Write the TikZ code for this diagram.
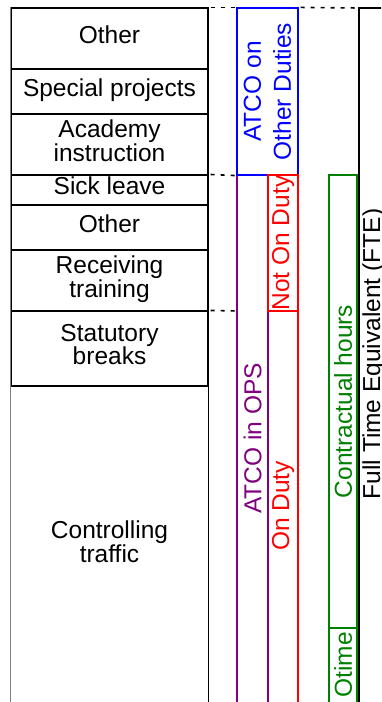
\documentclass[tikz,border=0pt]{standalone}
\usepackage{fontspec}
\setmainfont{Liberation Sans}
\definecolor{atcoblue}{RGB}{0,0,255}
\definecolor{atcopurple}{RGB}{128,0,128}
\definecolor{atcored}{RGB}{255,0,0}
\definecolor{atcogreen}{RGB}{0,128,0}

\begin{document}
\begin{tikzpicture}[x=1pt, y=-1pt, line width=1.2pt,
    font=\fontsize{24.5}{22}\selectfont,
    row/.style={draw, minimum width=197, inner sep=0pt, align=center, text depth=8pt},
    band/.style={draw, rotate=90, inner sep=0pt, align=center},
    guide/.style={line width=1.6pt, dash pattern=on 4pt off 6pt, dash phase=8pt}]
	\useasboundingbox (0,0) rectangle (381,702);
	\clip (0,0) rectangle (381,702);
	
	% Breakdown of the hours (left column)
	\node[row, minimum height=61] (other) at (109.5,38.5) {Other};
	\node[row, minimum height=45] (special) at (109.5,91.5) {Special projects};
	\node[row, minimum height=61] (academy) at (109.5,144.5) {Academy\\instruction};
	\node[row, minimum height=30] (sick) at (109.5,190) {Sick leave};
	\node[row, minimum height=45] (otherops) at (109.5,227.5) {Other};
	\node[row, minimum height=61] (training) at (109.5,280.5) {Receiving\\training};
	\node[row, minimum height=75] (breaks) at (109.5,348.5) {Statutory\\breaks};
	\draw (breaks.south west) -- ++(0,340) (breaks.south east) -- ++(0,340);
	\node[align=center, text depth=8pt] (traffic) at (109.5,546) {Controlling\\traffic};
	\draw[gray] (other.north west) -- ++(0,700);
	
	% On duty / ATCO in OPS
	\draw[atcored] (268,720) |- (298,311) -- (298,720);
	\node[atcored, rotate=90] (onduty) at (283,506) {On Duty};
	\draw[atcopurple] (237,720) |- (268,175) -- (268,720);
	\node[atcopurple, rotate=90] (inops) at (252.5,438.5) {ATCO in OPS};
	
	% ATCO on other duties and not on duty
	\node[band, atcoblue, minimum width=167, minimum height=61,
	  font=\fontsize{24.5}{30}\selectfont] (otherduties) at (267.5,91.5) {ATCO on\\Other Duties};
	\node[band, atcored, minimum width=136, minimum height=30] (notonduty) at (283,243) {Not On Duty};
	
	% Contractual hours and overtime
	\node[band, atcogreen, minimum width=453, minimum height=28] (contract) at (343,401.5) {Contractual hours};
	\draw[atcogreen] (329,628) -- (329,720) (357,628) -- (357,720);
	\node[atcogreen, rotate=90] (otime) at (343,665) {Otime};
	
	% FTE bracket
	\draw[line width=1.8pt] (390,8) -| (359,720);
	\coordinate (ftetop) at (359,8);
	\coordinate (opsedge) at (237,311);
	\node[rotate=90, anchor=base, inner sep=0pt] (fte) at (380,354) {Full Time Equivalent (FTE)};
	
	% dotted guides
	\draw[guide] (other.north east) -- (otherduties.north east);
	\draw[guide] (otherduties.south east) -- (ftetop);
	\draw[guide] (sick.north east) -- (otherduties.north west);
	\draw[guide] (breaks.north east) -- (opsedge);
\end{tikzpicture}
\end{document}
